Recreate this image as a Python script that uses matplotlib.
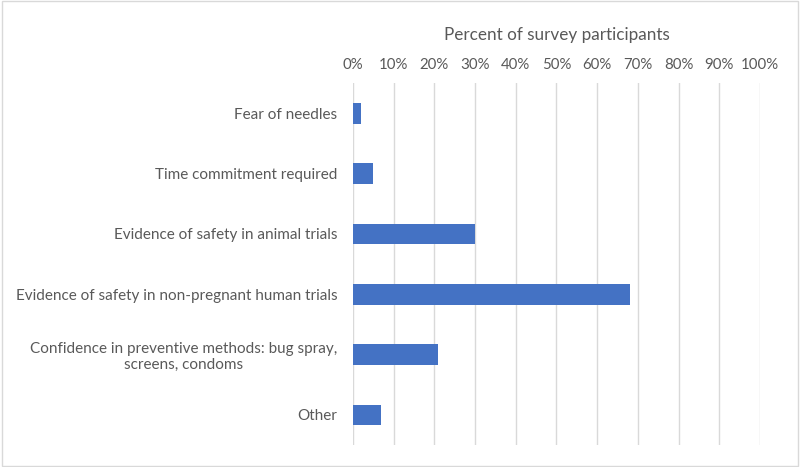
import numpy as np
import matplotlib.pyplot as plt
from matplotlib.ticker import PercentFormatter

categories = ['Fear of needles',
              'Time commitment required',
              'Evidence of safety in animal trials',
              'Evidence of safety in non-pregnant human trials',
              'Confidence in preventive methods: bug spray,\nscreens, condoms',
              'Other']
percents = [2, 5, 30, 68, 21, 7]
xticks = [0, 10, 20, 30, 40, 50, 60, 70, 80, 90, 100]

plt.rcParams['font.family'] = ['Lato', 'DejaVu Sans']
grey = '#595959'

fig = plt.figure(figsize=(8, 4.67), dpi=100)
ax = fig.add_axes([0.441, 0.047, 0.509, 0.775])

y = np.arange(len(categories))
ax.barh(y, percents, height=0.34, color='#4472C4', zorder=3)
ax.set_ylim(len(categories) - 0.5, -0.5)
ax.set_xlim(0, 100)
ax.set_yticks(y)
ax.set_yticklabels(categories, fontsize=11, color=grey, multialignment='center')
ax.set_xticks(xticks)
ax.xaxis.set_major_formatter(PercentFormatter(decimals=0))
ax.xaxis.tick_top()
ax.xaxis.set_label_position('top')
ax.set_xlabel('Percent of survey participants', fontsize=12.3, color=grey, labelpad=13)
ax.tick_params(axis='x', length=0, labelsize=10.8, labelcolor=grey, pad=8)
ax.tick_params(axis='y', length=0, pad=11)
ax.grid(axis='x', color='#D9D9D9', linewidth=1, zorder=0)
for s in ax.spines.values():
    s.set_visible(False)

fig.patches.append(plt.Rectangle((0.002, 0.002), 0.996, 0.996, transform=fig.transFigure,
                                 fill=False, edgecolor='#D9D9D9', linewidth=1))
fig.savefig('out.png')
